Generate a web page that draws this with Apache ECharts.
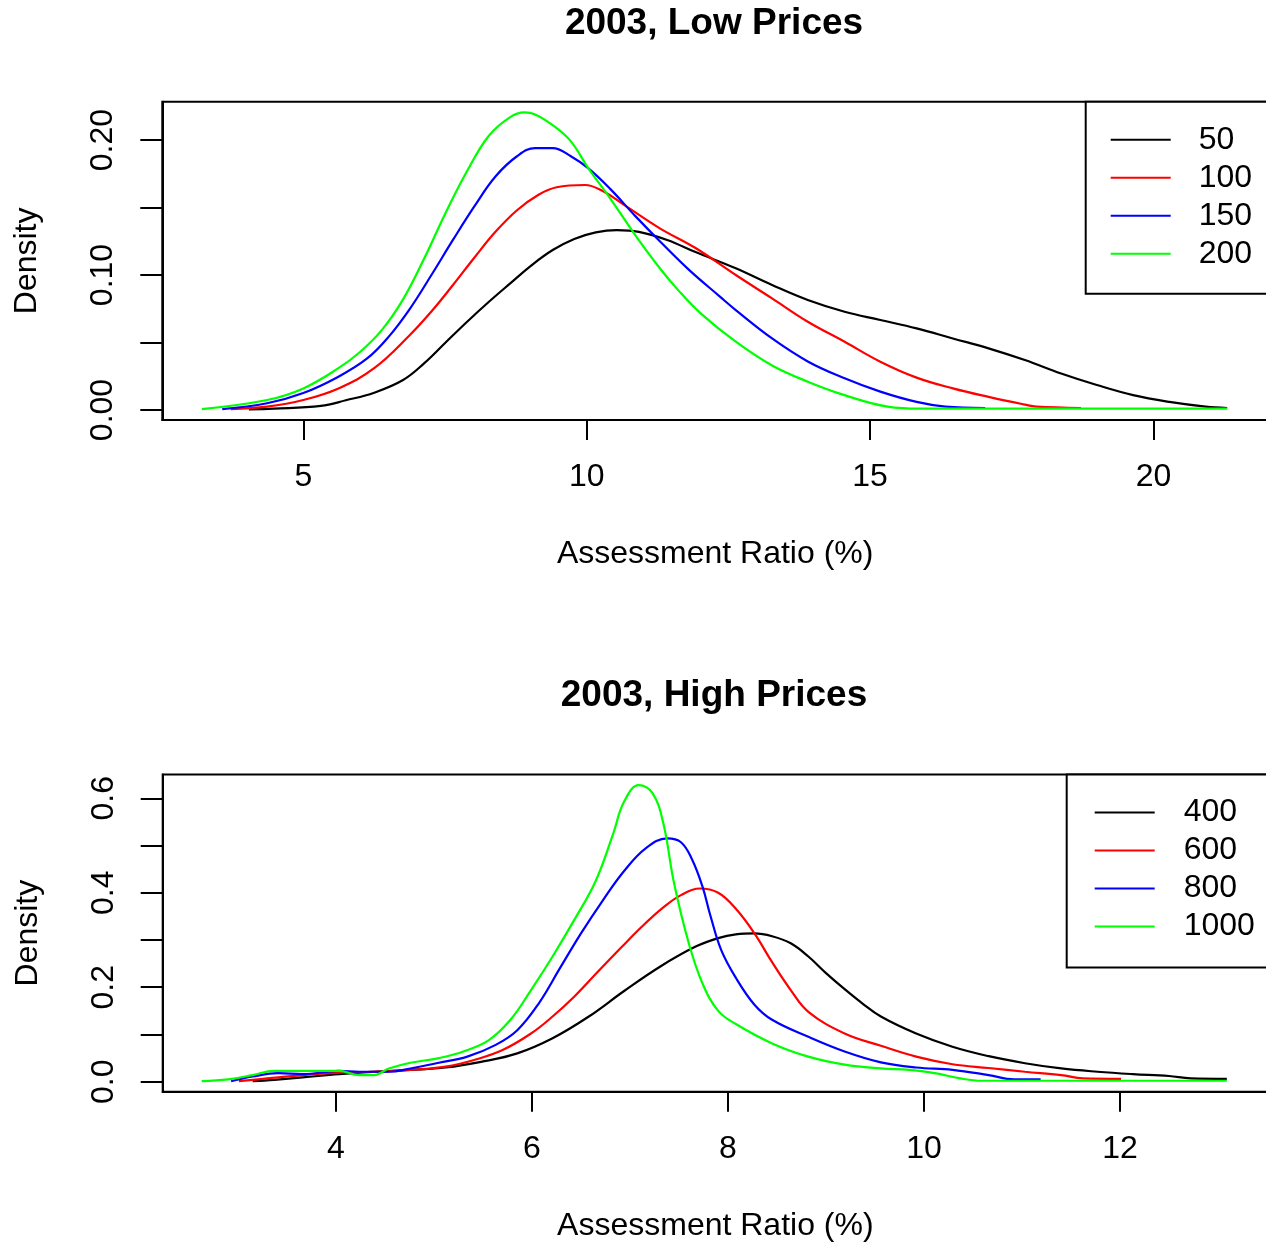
<!DOCTYPE html>
<html>
<head>
<meta charset="utf-8">
<title>2003 Assessment Ratio density</title>
<script src="https://cdn.jsdelivr.net/npm/echarts@6/dist/echarts.min.js"></script>
<style>
  html, body { margin: 0; padding: 0; background: #fff; }
  #chart { width: 1266px; height: 1245px; }
</style>
</head>
<body>
<div id="chart"></div>
<script>
// ---- low prices (top panel) ----
let lowNames = ['50', '100', '150', '200'];
let lowX50 = [4.04, 4.48, 5.31, 5.75, 6.25, 6.76, 7.13, 7.51, 7.89, 8.27, 8.65, 9.02, 9.40, 9.78, 10.16, 10.53, 10.92, 11.42, 11.92, 12.63, 13.27, 13.9, 14.55, 15.18, 15.82, 16.46, 17.09, 17.73, 18.37, 19.0, 19.64, 20.28, 20.92, 21.3];
let lowY50 = [0.0005, 0.001, 0.003, 0.0072, 0.0128, 0.0222, 0.0345, 0.0500, 0.0654, 0.080, 0.0938, 0.107, 0.1185, 0.1267, 0.1316, 0.1333, 0.132, 0.126, 0.117, 0.105, 0.0926, 0.0815, 0.0728, 0.0667, 0.0605, 0.053, 0.0457, 0.037, 0.027, 0.0185, 0.011, 0.006, 0.0025, 0.0015];
let lowX100 = [3.72, 4.36, 5.0, 5.62, 6.25, 6.88, 7.26, 7.64, 8.02, 8.39, 8.77, 9.15, 9.47, 9.97, 10.29, 10.66, 11.29, 11.92, 12.63, 13.27, 13.9, 14.55, 15.18, 15.82, 16.46, 17.09, 17.73, 17.93, 18.72];
let lowY100 = [0.0007, 0.0025, 0.0074, 0.016, 0.031, 0.0556, 0.073, 0.0926, 0.113, 0.132, 0.148, 0.1595, 0.165, 0.1667, 0.162, 0.152, 0.1346, 0.12, 0.100, 0.0827, 0.0654, 0.0506, 0.0358, 0.0240, 0.0160, 0.0097, 0.0040, 0.0025, 0.0015];
let lowX150 = [3.57, 4.36, 5.0, 5.62, 6.12, 6.5, 6.88, 7.26, 7.64, 8.02, 8.39, 8.77, 9.09, 9.4, 9.72, 10.03, 10.41, 10.85, 11.29, 11.8, 12.35, 12.63, 13.27, 13.9, 14.55, 15.18, 15.82, 16.33, 17.03];
let lowY150 = [0.0007, 0.005, 0.0126, 0.0247, 0.038, 0.054, 0.075, 0.100, 0.126, 0.151, 0.173, 0.188, 0.194, 0.194, 0.188, 0.179, 0.164, 0.144, 0.125, 0.104, 0.084, 0.074, 0.053, 0.036, 0.0235, 0.0136, 0.006, 0.0025, 0.0015];
let lowX200 = [3.21, 4.36, 5.0, 5.62, 6.0, 6.38, 6.76, 7.13, 7.51, 7.89, 8.27, 8.65, 8.9, 9.09, 9.4, 9.72, 10.03, 10.41, 10.85, 11.29, 11.61, 12.0, 12.63, 13.27, 13.9, 14.55, 15.31, 15.88, 21.3];
let lowY200 = [0.0007, 0.0074, 0.016, 0.031, 0.043, 0.059, 0.082, 0.112, 0.146, 0.177, 0.203, 0.217, 0.2205, 0.219, 0.211, 0.199, 0.179, 0.157, 0.130, 0.105, 0.089, 0.072, 0.0506, 0.033, 0.021, 0.011, 0.0025, 0.001, 0.001];

// ---- high prices (bottom panel) ----
let highNames = ['400', '600', '800', '1000'];
let highX400 = [3.15, 3.37, 3.66, 4.03, 4.39, 4.76, 5.12, 5.48, 5.85, 6.21, 6.58, 6.94, 7.31, 7.67, 7.90, 8.08, 8.27, 8.45, 8.64, 8.82, 9.0, 9.19, 9.37, 9.56, 9.92, 10.29, 10.66, 11.03, 11.40, 11.77, 12.13, 12.5, 12.72, 13.09];
let highY400 = [0.001, 0.004, 0.009, 0.016, 0.021, 0.025, 0.030, 0.042, 0.060, 0.092, 0.138, 0.192, 0.244, 0.286, 0.304, 0.312, 0.314, 0.308, 0.293, 0.265, 0.230, 0.196, 0.166, 0.138, 0.102, 0.074, 0.054, 0.039, 0.028, 0.021, 0.016, 0.012, 0.007, 0.006];
let highX600 = [3.01, 3.30, 3.66, 4.03, 4.39, 4.76, 5.12, 5.41, 5.70, 5.99, 6.21, 6.43, 6.65, 6.91, 7.12, 7.34, 7.52, 7.71, 7.90, 8.08, 8.27, 8.45, 8.64, 8.82, 9.19, 9.56, 9.92, 10.29, 10.66, 11.03, 11.40, 11.62, 12.01];
let highY600 = [0.001, 0.007, 0.014, 0.019, 0.021, 0.025, 0.032, 0.046, 0.067, 0.102, 0.138, 0.180, 0.228, 0.284, 0.328, 0.369, 0.395, 0.409, 0.400, 0.366, 0.314, 0.253, 0.194, 0.148, 0.102, 0.076, 0.053, 0.037, 0.029, 0.021, 0.014, 0.007, 0.006];
let highX800 = [2.93, 3.15, 3.41, 3.66, 4.03, 4.24, 4.54, 4.76, 5.05, 5.34, 5.63, 5.85, 6.07, 6.29, 6.50, 6.72, 6.94, 7.16, 7.38, 7.52, 7.63, 7.74, 7.82, 7.93, 8.08, 8.27, 8.45, 8.82, 9.19, 9.56, 9.92, 10.29, 10.66, 10.92, 11.19];
let highY800 = [0.001, 0.011, 0.018, 0.016, 0.023, 0.021, 0.021, 0.028, 0.040, 0.053, 0.078, 0.109, 0.166, 0.242, 0.314, 0.383, 0.446, 0.494, 0.515, 0.507, 0.472, 0.413, 0.352, 0.279, 0.220, 0.163, 0.131, 0.095, 0.064, 0.041, 0.030, 0.025, 0.014, 0.005, 0.005];
let highX1000 = [2.63, 2.90, 3.15, 3.37, 3.73, 4.03, 4.24, 4.39, 4.54, 4.76, 5.05, 5.30, 5.56, 5.78, 5.99, 6.21, 6.43, 6.65, 6.83, 6.94, 7.09, 7.23, 7.34, 7.45, 7.60, 7.74, 7.90, 8.08, 8.45, 8.82, 9.19, 9.56, 9.85, 10.11, 10.37, 10.59, 13.09];
let highY1000 = [0.001, 0.005, 0.014, 0.023, 0.023, 0.023, 0.014, 0.014, 0.028, 0.040, 0.050, 0.064, 0.088, 0.131, 0.194, 0.265, 0.342, 0.425, 0.526, 0.593, 0.628, 0.611, 0.547, 0.420, 0.293, 0.208, 0.150, 0.122, 0.081, 0.053, 0.036, 0.028, 0.025, 0.018, 0.007, 0.002, 0.002];

// ticks / labels
let lowXTicks = [5, 10, 15, 20];
let lowYTicks = [0, 0.05, 0.10, 0.15, 0.20];
let lowYLabels = [0, 0.10, 0.20];
let highXTicks = [4, 6, 8, 10, 12];
let highYTicks = [0, 0.1, 0.2, 0.3, 0.4, 0.5, 0.6];
let highYLabels = [0, 0.2, 0.4, 0.6];

let lineColors = ['#000000', '#ff0000', '#0000ff', '#00ff00'];
let FONT = '"Liberation Sans", Arial, Helvetica, sans-serif';

function pairs(xs, ys) {
    let out = [];
    for (let i = 0; i < xs.length; i++) out.push([xs[i], ys[i]]);
    return out;
}

let lowData = [pairs(lowX50, lowY50), pairs(lowX100, lowY100), pairs(lowX150, lowY150), pairs(lowX200, lowY200)];
let highData = [pairs(highX400, highY400), pairs(highX600, highY600), pairs(highX800, highY800), pairs(highX1000, highY1000)];

function mkX(idx, min, max, ticks) {
    return {
        type: 'value', gridIndex: idx, min: min, max: max,
        name: 'Assessment Ratio (%)', nameLocation: 'middle', nameGap: 118,
        nameTextStyle: { fontFamily: FONT, fontSize: 32, color: '#000' },
        axisLine: { show: true, onZero: false, lineStyle: { color: '#000', width: 2 } },
        axisTick: { show: true, length: 20, inside: false, customValues: ticks, lineStyle: { color: '#000', width: 2 } },
        axisLabel: { customValues: ticks, margin: 41, fontFamily: FONT, fontSize: 32, color: '#000',
            formatter: v => String(v) },
        splitLine: { show: false }
    };
}
function mkY(idx, min, max, ticks, labels, dec) {
    return {
        type: 'value', gridIndex: idx, min: min, max: max,
        name: 'Density', nameLocation: 'middle', nameGap: 119,
        nameTextStyle: { fontFamily: FONT, fontSize: 32, color: '#000' },
        axisLine: { show: true, onZero: false, lineStyle: { color: '#000', width: 2 } },
        axisTick: { show: true, length: 22, customValues: ticks, lineStyle: { color: '#000', width: 2 } },
        axisLabel: { customValues: labels, rotate: 90, margin: 43, fontFamily: FONT, fontSize: 32, color: '#000',
            formatter: v => v.toFixed(dec) },
        splitLine: { show: false }
    };
}
function mkLegend(names, left, top, pad, txtPad) {
    return {
        data: names, orient: 'vertical', left: left, top: top,
        icon: 'rect', itemWidth: 60, itemHeight: 2, itemGap: 0,
        padding: pad, borderColor: '#000', borderWidth: 2, borderRadius: 0,
        backgroundColor: '#fff', selectedMode: false,
        textStyle: { fontFamily: FONT, fontSize: 32, color: '#000', lineHeight: 38, padding: [0, 0, 0, txtPad] }
    };
}

let series = [];
for (let i = 0; i < 4; i++) {
    series.push({ name: lowNames[i], type: 'line', xAxisIndex: 0, yAxisIndex: 0, data: lowData[i],
        showSymbol: false, symbol: 'none', smooth: 0.4, color: lineColors[i],
        lineStyle: { width: 2.2, color: lineColors[i] } });
}
for (let i = 0; i < 4; i++) {
    series.push({ name: highNames[i], type: 'line', xAxisIndex: 1, yAxisIndex: 1, data: highData[i],
        showSymbol: false, symbol: 'none', smooth: 0.4, color: lineColors[i],
        lineStyle: { width: 2.2, color: lineColors[i] } });
}

let myChart = echarts.init(document.getElementById('chart'), null, { renderer: 'canvas' });
let option = {
    animation: false,
    backgroundColor: '#fff',
    title: [
        { text: '2003, Low Prices', left: 714, top: 5, textAlign: 'center', padding: 0,
          textStyle: { fontFamily: FONT, fontSize: 37, fontWeight: 'bold', color: '#000' } },
        { text: '2003, High Prices', left: 714, top: 677, textAlign: 'center', padding: 0,
          textStyle: { fontFamily: FONT, fontSize: 37, fontWeight: 'bold', color: '#000' } }
    ],
    grid: [
        { left: 162.3, top: 101.7, width: 1105.7, height: 318.3, show: true, borderColor: '#000', borderWidth: 2,
          backgroundColor: 'transparent', containLabel: false, outerBoundsMode: 'none' },
        { left: 162.7, top: 774.5, width: 1105.3, height: 317.2, show: true, borderColor: '#000', borderWidth: 2,
          backgroundColor: 'transparent', containLabel: false, outerBoundsMode: 'none' }
    ],
    xAxis: [mkX(0, 2.512, 22.02, lowXTicks), mkX(1, 2.232, 13.51, highXTicks)],
    yAxis: [mkY(0, -0.0074, 0.2284, lowYTicks, lowYLabels, 2), mkY(1, -0.0212, 0.6504, highYTicks, highYLabels, 1)],
    legend: [
        mkLegend(lowNames, 1085.7, 101.7, [19, 60, 21, 25], 23),
        mkLegend(highNames, 1066.7, 774.5, [19, 60, 22, 28], 24)
    ],
    series: series
};
myChart.setOption(option);
</script>
</body>
</html>
